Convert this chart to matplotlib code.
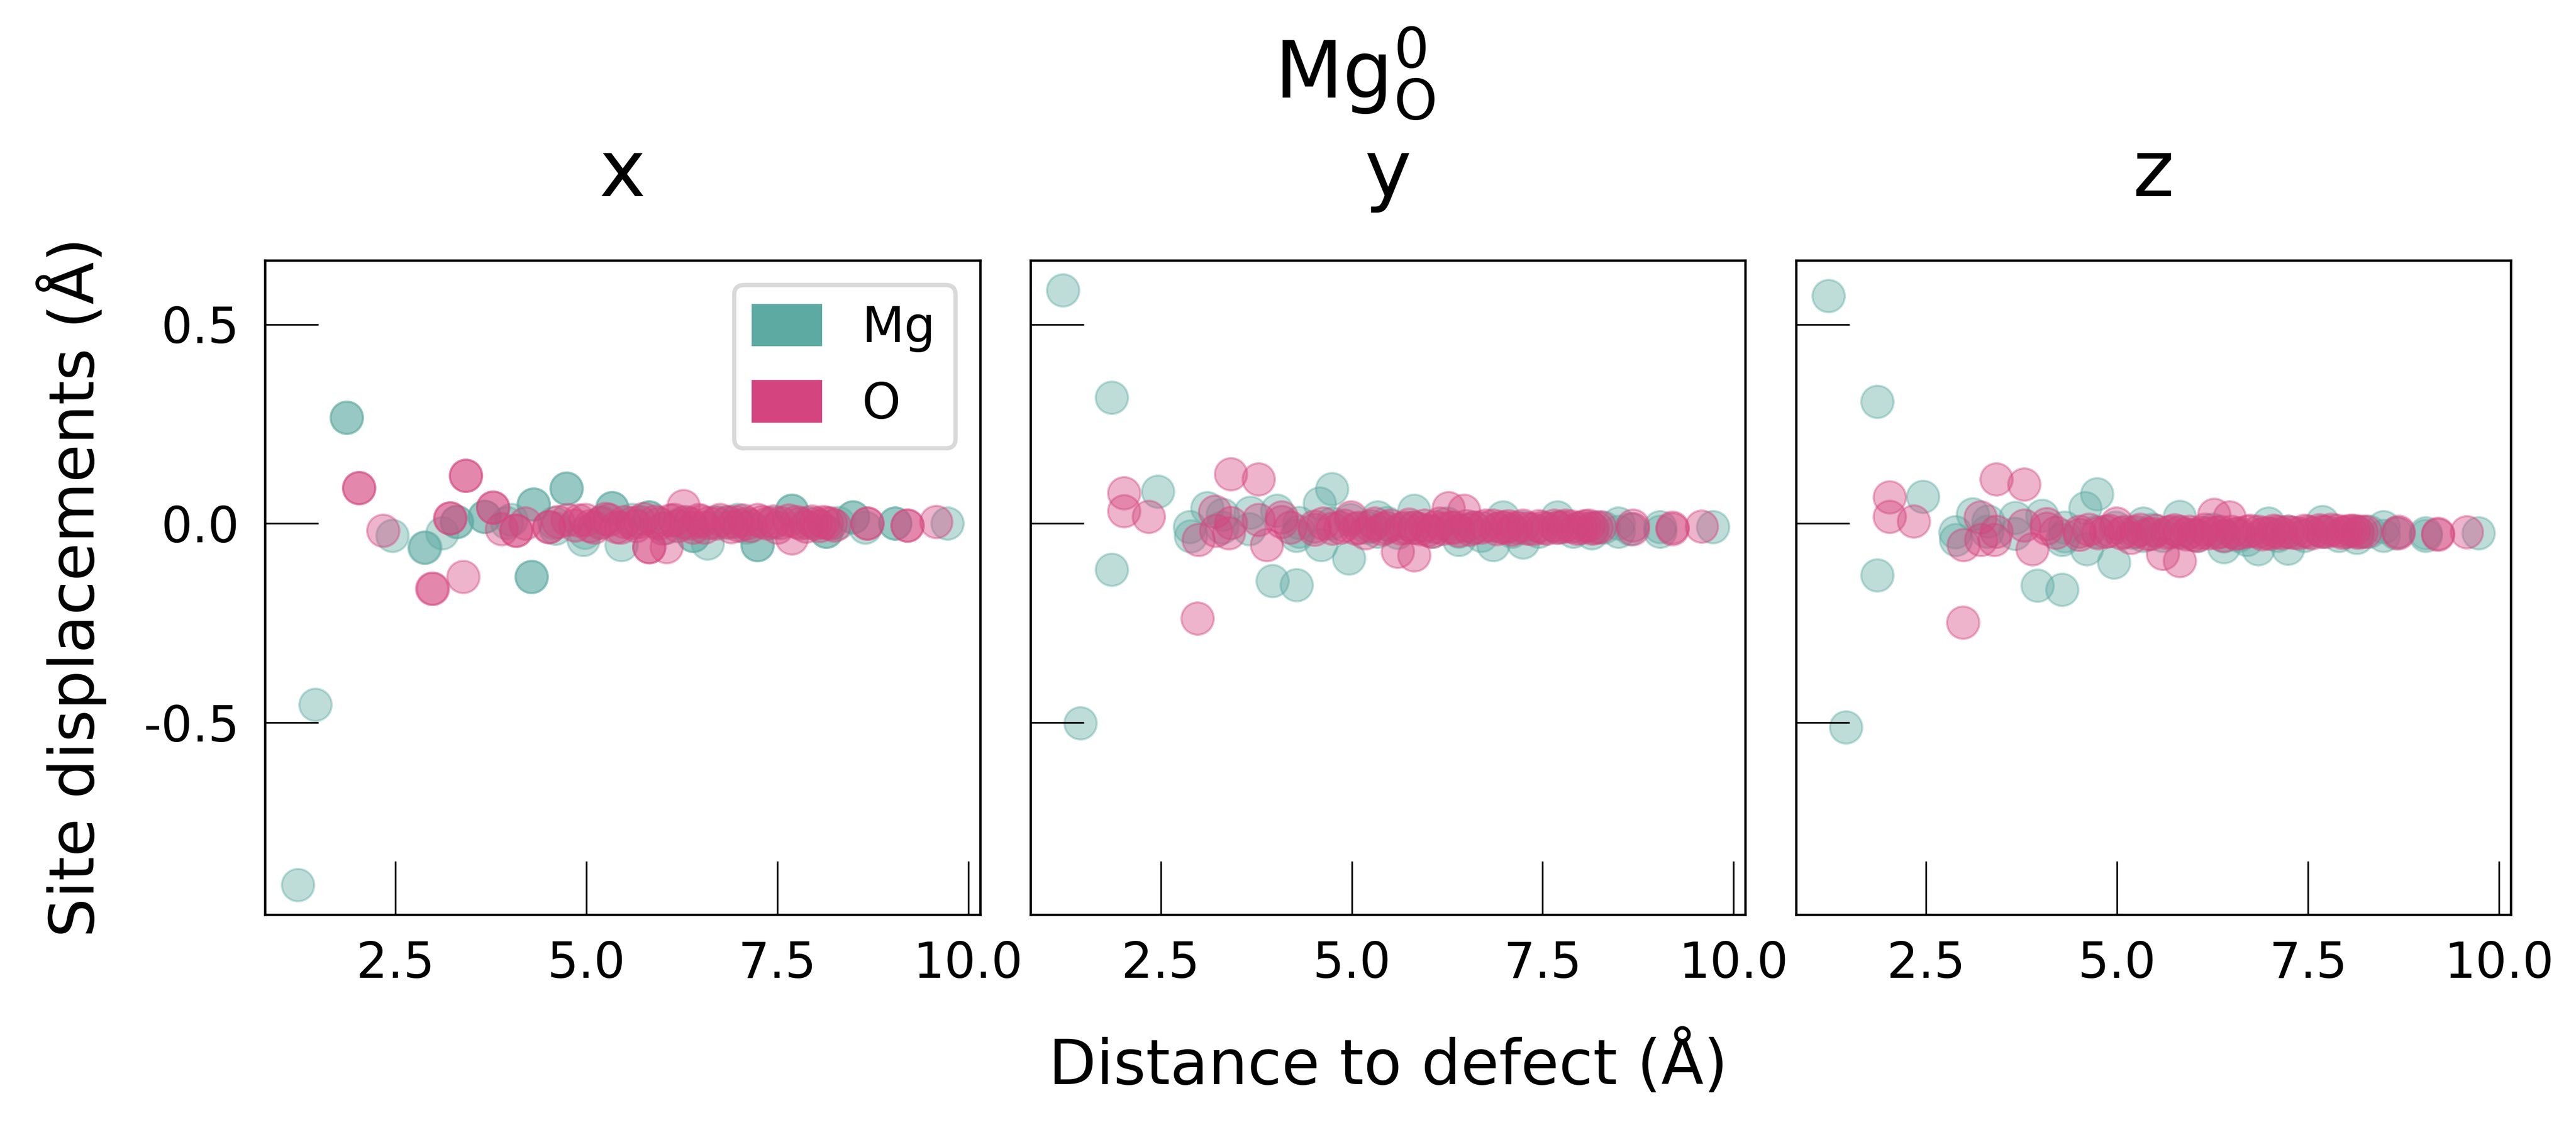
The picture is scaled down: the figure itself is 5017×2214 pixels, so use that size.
import matplotlib
matplotlib.use("Agg")
import matplotlib.pyplot as plt
import matplotlib.patches as mpatches
from matplotlib.ticker import MultipleLocator

plt.rcParams['font.family'] = ['DejaVu Sans']
plt.rcParams['mathtext.fontset'] = 'dejavusans'
plt.rcParams['axes.unicode_minus'] = False

# site displacements around the Mg_O antisite, one entry per atom
elements = ['Mg', 'O']
directions = ['x', 'y', 'z']
colours = {'Mg': '#5DAAA2', 'O': '#D4447E'}

mg_dist = [1.22, 1.45, 1.86, 1.86, 2.46, 2.88, 2.89, 3.11, 3.30, 3.31,
           3.66, 3.67, 3.96, 4.02, 4.28, 4.28, 4.31, 4.31, 4.58, 4.60,
           4.74, 4.74, 4.96, 4.98, 5.20, 5.34, 5.34, 5.46, 5.60, 5.82,
           5.82, 6.05, 6.25, 6.40, 6.40, 6.59, 6.70, 6.85, 6.98, 7.10,
           7.24, 7.24, 7.45, 7.69, 7.69, 7.90, 8.14, 8.14, 8.30, 8.49,
           8.49, 8.65, 9.04, 9.04, 9.73]
mg_disp_x = [-0.907, -0.454, 0.266, 0.266, -0.030, -0.060, -0.060, -0.024, 0.004, 0.004,
             0.018, 0.018, 0.002, 0.010, -0.134, -0.134, 0.048, 0.048, 0.002, -0.012,
             0.088, 0.088, -0.041, -0.022, 0.004, 0.039, 0.039, -0.053, 0.010, 0.016,
             0.016, -0.010, 0.002, -0.030, -0.030, -0.050, 0.004, 0.002, 0.010, -0.010,
             -0.053, -0.053, 0.002, 0.033, 0.033, 0.002, -0.020, -0.020, 0.002, 0.016,
             0.016, -0.010, 0.000, 0.000, 0.000]
mg_disp_y = [0.586, -0.501, 0.317, -0.116, 0.080, -0.009, -0.031, 0.039, -0.010, 0.022,
             -0.013, 0.028, -0.144, 0.033, -0.154, -0.030, 0.002, -0.020, 0.051, -0.053,
             0.087, 0.000, -0.087, 0.010, -0.010, 0.016, -0.020, 0.002, -0.022, 0.033,
             -0.010, -0.020, 0.000, -0.041, -0.020, -0.010, -0.030, -0.053, 0.016, -0.020,
             -0.047, -0.010, -0.020, 0.016, -0.010, -0.020, -0.024, -0.010, -0.010, 0.000,
             -0.020, -0.013, -0.009, -0.020, -0.009]
mg_disp_z = [0.572, -0.511, 0.306, -0.130, 0.068, -0.021, -0.041, 0.024, -0.020, 0.006,
             -0.025, 0.015, -0.155, 0.020, -0.166, -0.040, -0.010, -0.032, 0.039, -0.064,
             0.074, -0.020, -0.097, -0.010, -0.022, 0.000, -0.030, -0.015, -0.030, 0.018,
             -0.022, -0.030, -0.015, -0.059, -0.032, -0.030, -0.040, -0.064, 0.000, -0.030,
             -0.062, -0.020, -0.030, 0.005, -0.020, -0.030, -0.036, -0.020, -0.020, -0.009,
             -0.030, -0.024, -0.024, -0.030, -0.024]

o_dist = [2.02, 2.02, 2.34, 2.98, 2.99, 3.21, 3.22, 3.39, 3.42, 3.42,
          3.78, 3.78, 3.89, 4.08, 4.08, 4.20, 4.51, 4.51, 4.63, 4.75,
          4.85, 4.90, 4.99, 5.05, 5.10, 5.18, 5.25, 5.30, 5.40, 5.45,
          5.50, 5.60, 5.65, 5.70, 5.75, 5.82, 5.82, 5.90, 5.95, 6.00,
          6.05, 6.10, 6.15, 6.20, 6.27, 6.30, 6.35, 6.40, 6.47, 6.50,
          6.55, 6.60, 6.70, 6.75, 6.85, 6.90, 6.95, 7.00, 7.05, 7.10,
          7.15, 7.24, 7.30, 7.37, 7.45, 7.50, 7.55, 7.65, 7.69, 7.75,
          7.80, 7.88, 7.95, 8.00, 8.05, 8.10, 8.15, 8.20, 8.25, 8.68,
          8.68, 9.20, 9.20, 9.58]
o_disp_x = [0.089, 0.089, -0.018, -0.163, -0.163, 0.014, 0.014, -0.134, 0.121, 0.121,
            0.040, 0.040, -0.014, -0.018, -0.018, 0.000, -0.008, -0.008, 0.005, 0.010,
            -0.004, 0.008, 0.010, -0.006, -0.010, 0.002, 0.012, 0.010, -0.008, -0.010,
            0.004, 0.002, -0.006, 0.005, 0.012, -0.059, -0.059, 0.006, 0.000, -0.012,
            -0.059, 0.008, 0.010, -0.006, 0.045, 0.004, 0.000, -0.010, 0.010, 0.006,
            -0.010, 0.002, 0.000, 0.010, 0.005, -0.008, 0.004, -0.005, 0.008, 0.000,
            -0.006, 0.010, 0.004, 0.000, 0.006, -0.010, 0.002, 0.008, -0.037, 0.004,
            0.000, -0.007, 0.006, 0.000, -0.006, 0.005, 0.002, 0.000, -0.004, 0.000,
            0.000, -0.005, -0.005, 0.005]
o_disp_y = [0.077, 0.032, 0.017, -0.238, -0.041, 0.030, -0.018, -0.024, 0.125, 0.002,
            0.111, 0.010, -0.053, 0.016, 0.005, -0.010, -0.007, -0.015, 0.000, -0.012,
            -0.010, -0.004, 0.016, -0.012, -0.010, -0.024, -0.006, 0.000, -0.014, -0.010,
            -0.004, -0.070, -0.012, -0.010, -0.002, -0.079, -0.010, -0.014, -0.005, -0.016,
            -0.020, -0.008, 0.000, -0.012, 0.039, -0.010, -0.010, -0.018, 0.033, -0.006,
            -0.015, -0.010, -0.010, -0.004, -0.005, -0.014, -0.008, -0.010, -0.006, -0.015,
            -0.010, -0.005, -0.012, -0.013, -0.006, -0.010, -0.012, -0.004, -0.010, -0.008,
            -0.005, -0.007, -0.012, -0.010, -0.006, -0.005, -0.012, -0.010, -0.008, -0.013,
            -0.005, -0.013, -0.010, -0.007]
o_disp_z = [0.067, 0.018, 0.006, -0.248, -0.053, 0.016, -0.041, -0.041, 0.111, -0.020,
            0.099, -0.005, -0.064, -0.001, -0.012, -0.022, -0.020, -0.028, -0.015, -0.024,
            -0.020, -0.018, 0.000, -0.024, -0.020, -0.035, -0.020, -0.015, -0.026, -0.025,
            -0.018, -0.076, -0.022, -0.020, -0.016, -0.093, -0.020, -0.026, -0.020, -0.028,
            -0.030, -0.022, -0.015, -0.024, 0.022, -0.022, -0.020, -0.030, 0.016, -0.020,
            -0.025, -0.024, -0.020, -0.018, -0.020, -0.026, -0.022, -0.025, -0.018, -0.020,
            -0.024, -0.020, -0.022, -0.024, -0.018, -0.020, -0.024, -0.016, -0.020, -0.020,
            -0.015, -0.018, -0.022, -0.020, -0.018, -0.018, -0.022, -0.020, -0.020, -0.024,
            -0.020, -0.028, -0.025, -0.021]

dists = {'Mg': mg_dist, 'O': o_dist}
disps = {'Mg': [mg_disp_x, mg_disp_y, mg_disp_z],
         'O': [o_disp_x, o_disp_y, o_disp_z]}

fig, axes = plt.subplots(1, 3, figsize=(5017 / 600, 2214 / 600), dpi=600, sharey=True)
fig.subplots_adjust(left=0.1029, right=0.9747, bottom=0.1956, top=0.771, wspace=0.0705)

for i, ax in enumerate(axes):
    for el in elements:
        ax.scatter(dists[el], disps[el][i], s=57, color=colours[el], alpha=0.4,
                   linewidths=0.5, edgecolors='face')
    ax.set_title(directions[i], fontsize=18.5, pad=15)
    ax.xaxis.set_major_locator(MultipleLocator(2.5))
    ax.yaxis.set_major_locator(MultipleLocator(0.5))
    ax.tick_params(direction='in', length=12.5, width=0.4, labelsize=11.5, pad=6)
    for sp in ax.spines.values():
        sp.set_linewidth(0.55)

handles = [mpatches.Patch(color=colours[el], label=el) for el in elements]
leg = axes[0].legend(handles=handles, loc='upper right', fontsize=11.5,
                     handlelength=1.35, handleheight=0.82, handletextpad=0.85,
                     labelspacing=0.58, borderpad=0.4, framealpha=1,
                     edgecolor='#D9D9D9', fancybox=True)
leg.get_frame().set_linewidth(1.0)

axes[0].set_ylabel('Site displacements (Å)', fontsize=14.5, labelpad=8.5)
axes[1].set_xlabel('Distance to defect (Å)', fontsize=14.5, labelpad=10)

fig.text(0.526, 0.9137, r'$\mathrm{Mg}_{\mathrm{O}}^{0}$', ha='center', va='baseline',
         fontsize=18.5)

fig.savefig('out.png', dpi=600)
